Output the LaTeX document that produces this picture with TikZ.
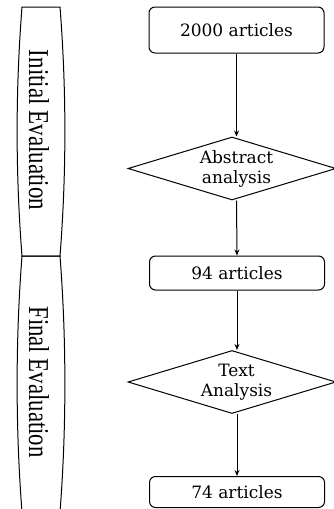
\documentclass[tikz,border=0pt]{standalone}
\usepackage{fontspec}
\setmainfont{DejaVu Serif}
\newfontfamily\sidefont{Liberation Serif}
\usetikzlibrary{shapes.geometric,arrows.meta}
\tikzset{
  boxnode/.style={draw, line width=1pt, rounded corners=6pt, minimum width=175pt, inner sep=0pt, font=\fontsize{17}{20}\selectfont},
  dianode/.style={draw, line width=1pt, diamond, inner sep=0pt, minimum width=208pt, minimum height=63pt},
  dialabel/.style={align=center, inner sep=0pt, font=\fontsize{17}{20}\selectfont},
  flow/.style={line width=1pt, -{Stealth[length=6pt,width=5pt]}},
  phase/.style={draw, line width=1pt},
  phasetext/.style={rotate=-90, inner sep=0pt, font=\sidefont}
}
\begin{document}
\begin{tikzpicture}[x=1pt,y=-1pt]
\useasboundingbox (0,0) rectangle (334,509);
% left phase shapes
\draw[phase] (22,7) -- (60,7) .. controls (66.5,90) and (66.5,173) .. (60,256) -- (22,256) .. controls (15.5,173) and (15.5,90) .. (22,7) -- cycle;
\draw[phase] (22,256) -- (60,256) .. controls (66.5,340) and (66.5,428) .. (60,512) -- (22,512) .. controls (15.5,428) and (15.5,340) .. (22,256);
\node[phasetext] (ie) at (39,130) {\resizebox{160pt}{20pt}{Initial Evaluation}};
\node[phasetext] (fe) at (39,382) {\resizebox{151pt}{20pt}{Final Evaluation}};
% flow
\node[boxnode, minimum height=46pt] (b1) at (236.5,30) {2000 articles};
\node[dianode] (d1) at (232,168.5) {};
\node[dialabel] (t1) at (236.5,169) {Abstract\\analysis};
\node[boxnode, minimum height=34pt] (b2) at (237,273) {94 articles};
\node[dianode] (d2) at (232,382) {};
\node[dialabel] (t2) at (236.5,382) {Text\\Analysis};
\node[boxnode, minimum height=31pt] (b3) at (237,492) {74 articles};
\draw[flow] (b1.south) -- (b1.south |- d1.north);
\draw[flow] (b1.south |- d1.south) -- (b2.north);
\draw[flow] (b2.south) -- (b2.south |- d2.north);
\draw[flow] (b2.south |- d2.south) -- (b3.north);
\end{tikzpicture}
\end{document}
